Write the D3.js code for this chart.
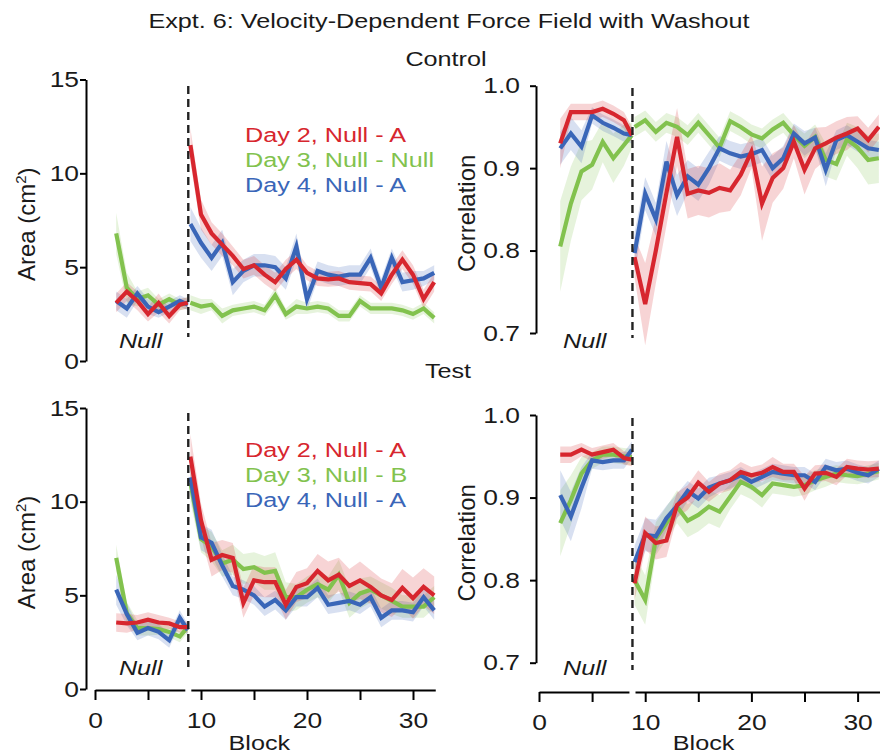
<!DOCTYPE html>
<html>
<head>
<meta charset="utf-8">
<script src="https://cdn.jsdelivr.net/npm/d3@7"></script>
<style>
  body { margin: 0; background: #fff; }
  text { font-family: "Liberation Sans", Arial, sans-serif; fill: #1a1a1a; }
</style>
</head>
<body>
<div id="chart"></div>
<script>
// block numbers (null phase squeezed up to the dashed line)
const nullBlocks = [2, 3, 4, 5, 6, 7, 8, 8.75];
const postBlocks = [9, 10, 11, 12, 13, 14, 15, 16, 17, 18, 19, 20, 21, 22, 23, 24, 25, 26, 27, 28, 29, 30, 31, 32];

const areaTicks = [0, 5, 10, 15];
const corrTicks = [0.7, 0.8, 0.9, 1.0];
const blockLabels = [0, 10, 20, 30];

const seriesNames = ["Day 2, Null - A", "Day 3, Null - Null", "Day 4, Null - A"];
const seriesNamesTest = ["Day 2, Null - A", "Day 3, Null - B", "Day 4, Null - A"];

// Control, area
const ctrlAreaRedNull = [3.1, 3.7, 3.2, 2.5, 3.1, 2.4, 3.0, 3.1];
const ctrlAreaRedNullSem = [0.5, 0.5, 0.5, 0.4, 0.5, 0.4, 0.3, 0.3];
const ctrlAreaRedPost = [11.5, 7.8, 6.8, 6.2, 5.6, 4.9, 5.1, 4.6, 4.2, 4.9, 5.4, 4.7, 4.4, 4.35, 4.4, 4.2, 4.15, 4.1, 3.6, 4.6, 5.4, 4.6, 3.3, 4.2];
const ctrlAreaRedPostSem = [0.9, 0.8, 0.6, 0.6, 0.5, 0.5, 0.5, 0.5, 0.5, 0.5, 0.5, 0.4, 0.4, 0.4, 0.4, 0.4, 0.4, 0.4, 0.4, 0.5, 0.5, 0.5, 0.5, 0.5];
const ctrlAreaGreenNull = [6.8, 3.9, 3.3, 3.5, 3.0, 3.3, 3.0, 3.1];
const ctrlAreaGreenNullSem = [1.1, 0.8, 0.4, 0.4, 0.3, 0.3, 0.3, 0.3];
const ctrlAreaGreenPost = [3.1, 2.9, 3.0, 2.4, 2.7, 2.8, 2.9, 2.7, 3.5, 2.5, 2.9, 2.8, 2.9, 2.8, 2.4, 2.4, 3.2, 2.8, 2.8, 2.8, 2.7, 2.5, 2.8, 2.3];
const ctrlAreaGreenPostSem = [0.4, 0.4, 0.3, 0.4, 0.3, 0.3, 0.3, 0.3, 0.4, 0.3, 0.4, 0.3, 0.3, 0.3, 0.3, 0.3, 0.3, 0.3, 0.3, 0.3, 0.3, 0.3, 0.3, 0.3];
const ctrlAreaBlueNull = [3.2, 2.8, 3.6, 2.9, 2.6, 2.9, 3.2, 3.0];
const ctrlAreaBlueNullSem = [0.5, 0.5, 0.4, 0.4, 0.3, 0.3, 0.3, 0.3];
const ctrlAreaBluePost = [7.3, 6.3, 5.5, 6.3, 4.2, 4.8, 5.1, 5.1, 5.0, 4.4, 6.1, 3.3, 4.8, 4.6, 4.5, 4.6, 4.6, 5.5, 3.9, 5.5, 4.2, 4.3, 4.4, 4.7];
const ctrlAreaBluePostSem = [0.9, 0.8, 0.7, 0.7, 0.7, 0.6, 0.6, 0.6, 0.6, 0.6, 0.7, 0.6, 0.5, 0.5, 0.5, 0.5, 0.5, 0.5, 0.5, 0.5, 0.5, 0.5, 0.4, 0.4];

// Control, correlation
const ctrlCorrRedNull = [0.930, 0.968, 0.968, 0.968, 0.972, 0.966, 0.958, 0.940];
const ctrlCorrRedNullSem = [0.03, 0.01, 0.01, 0.01, 0.01, 0.01, 0.01, 0.01];
const ctrlCorrRedPost = [0.792, 0.735, 0.800, 0.870, 0.938, 0.869, 0.873, 0.870, 0.876, 0.873, 0.892, 0.920, 0.857, 0.888, 0.900, 0.932, 0.898, 0.924, 0.930, 0.937, 0.942, 0.948, 0.934, 0.950];
const ctrlCorrRedPostSem = [0.025, 0.05, 0.04, 0.04, 0.035, 0.03, 0.03, 0.03, 0.03, 0.025, 0.025, 0.02, 0.045, 0.03, 0.025, 0.02, 0.03, 0.025, 0.02, 0.02, 0.02, 0.015, 0.015, 0.015];
const ctrlCorrGreenNull = [0.805, 0.857, 0.896, 0.904, 0.932, 0.912, 0.928, 0.940];
const ctrlCorrGreenNullSem = [0.055, 0.045, 0.035, 0.03, 0.025, 0.03, 0.025, 0.015];
const ctrlCorrGreenPost = [0.950, 0.958, 0.944, 0.955, 0.950, 0.940, 0.955, 0.940, 0.925, 0.957, 0.950, 0.941, 0.936, 0.947, 0.955, 0.940, 0.927, 0.938, 0.910, 0.905, 0.935, 0.925, 0.910, 0.912];
const ctrlCorrGreenPostSem = [0.012, 0.012, 0.012, 0.012, 0.012, 0.012, 0.012, 0.012, 0.012, 0.012, 0.012, 0.012, 0.012, 0.012, 0.012, 0.012, 0.015, 0.015, 0.02, 0.02, 0.02, 0.025, 0.03, 0.03];
const ctrlCorrBlueNull = [0.924, 0.942, 0.926, 0.964, 0.955, 0.949, 0.942, 0.940];
const ctrlCorrBlueNullSem = [0.02, 0.02, 0.02, 0.01, 0.01, 0.01, 0.01, 0.01];
const ctrlCorrBluePost = [0.797, 0.869, 0.838, 0.908, 0.867, 0.890, 0.880, 0.900, 0.924, 0.918, 0.914, 0.917, 0.922, 0.900, 0.912, 0.942, 0.930, 0.937, 0.898, 0.934, 0.940, 0.932, 0.924, 0.922];
const ctrlCorrBluePostSem = [0.025, 0.02, 0.02, 0.025, 0.025, 0.02, 0.02, 0.02, 0.015, 0.015, 0.015, 0.015, 0.015, 0.015, 0.015, 0.012, 0.015, 0.012, 0.02, 0.012, 0.012, 0.012, 0.01, 0.01];

// Test, area
const testAreaRedNull = [3.55, 3.5, 3.55, 3.7, 3.55, 3.5, 3.3, 3.3];
const testAreaRedNullSem = [0.5, 0.5, 0.4, 0.4, 0.4, 0.3, 0.3, 0.3];
const testAreaRedPost = [12.4, 9.0, 6.9, 7.15, 7.0, 4.6, 5.8, 5.7, 5.7, 4.5, 5.45, 5.65, 6.3, 5.8, 6.1, 5.5, 5.8, 5.45, 5.0, 4.75, 5.4, 4.85, 5.45, 5.0];
const testAreaRedPostSem = [1.2, 0.9, 0.9, 0.8, 0.8, 0.8, 0.8, 0.8, 0.8, 0.8, 0.8, 0.8, 0.9, 1.0, 0.9, 0.9, 1.0, 0.9, 0.9, 0.9, 1.0, 1.1, 1.0, 1.0];
const testAreaGreenNull = [7.0, 4.05, 3.25, 3.25, 3.2, 3.05, 2.8, 3.3];
const testAreaGreenNullSem = [0.7, 0.6, 0.4, 0.4, 0.3, 0.3, 0.3, 0.3];
const testAreaGreenPost = [11.0, 8.0, 7.6, 6.7, 6.9, 6.4, 6.5, 6.2, 6.3, 4.9, 4.9, 5.3, 5.6, 5.3, 6.1, 4.6, 5.1, 5.3, 5.0, 4.7, 4.4, 4.4, 4.4, 4.9];
const testAreaGreenPostSem = [1.0, 0.7, 0.8, 0.7, 0.8, 0.8, 0.8, 0.9, 1.0, 0.8, 0.7, 0.7, 0.7, 0.7, 0.8, 0.8, 0.8, 0.7, 0.7, 0.7, 0.6, 0.6, 0.6, 0.6];
const testAreaBlueNull = [5.3, 4.0, 3.0, 3.25, 3.05, 2.6, 3.8, 3.15];
const testAreaBlueNullSem = [0.8, 0.6, 0.4, 0.4, 0.4, 0.4, 0.4, 0.3];
const testAreaBluePost = [11.3, 8.1, 7.8, 6.6, 5.5, 5.3, 5.0, 4.4, 4.75, 4.2, 4.9, 4.9, 5.4, 4.5, 4.6, 4.7, 4.5, 4.9, 3.8, 4.2, 4.2, 4.1, 4.9, 4.2];
const testAreaBluePostSem = [1.0, 0.7, 0.7, 0.6, 0.5, 0.5, 0.5, 0.5, 0.5, 0.5, 0.5, 0.5, 0.5, 0.5, 0.5, 0.5, 0.5, 0.5, 0.5, 0.5, 0.5, 0.5, 0.5, 0.5];

// Test, correlation
const testCorrRedNull = [0.952, 0.952, 0.958, 0.952, 0.955, 0.958, 0.948, 0.946];
const testCorrRedNullSem = [0.01, 0.01, 0.008, 0.008, 0.008, 0.008, 0.008, 0.008];
const testCorrRedPost = [0.796, 0.857, 0.845, 0.848, 0.891, 0.900, 0.918, 0.907, 0.917, 0.921, 0.931, 0.927, 0.930, 0.937, 0.931, 0.931, 0.911, 0.929, 0.930, 0.925, 0.937, 0.935, 0.934, 0.935];
const testCorrRedPostSem = [0.02, 0.02, 0.02, 0.02, 0.015, 0.015, 0.015, 0.012, 0.012, 0.012, 0.012, 0.01, 0.01, 0.012, 0.01, 0.01, 0.015, 0.01, 0.01, 0.01, 0.01, 0.01, 0.01, 0.01];
const testCorrGreenNull = [0.869, 0.897, 0.929, 0.945, 0.952, 0.952, 0.950, 0.949];
const testCorrGreenNullSem = [0.04, 0.03, 0.02, 0.01, 0.01, 0.01, 0.01, 0.01];
const testCorrGreenPost = [0.800, 0.776, 0.850, 0.869, 0.889, 0.872, 0.879, 0.889, 0.883, 0.901, 0.919, 0.913, 0.903, 0.917, 0.915, 0.913, 0.915, 0.921, 0.925, 0.929, 0.927, 0.926, 0.929, 0.932];
const testCorrGreenPostSem = [0.03, 0.03, 0.02, 0.02, 0.02, 0.02, 0.02, 0.02, 0.02, 0.015, 0.015, 0.015, 0.015, 0.012, 0.012, 0.012, 0.012, 0.012, 0.012, 0.01, 0.01, 0.01, 0.01, 0.01];
const testCorrBlueNull = [0.903, 0.877, 0.912, 0.945, 0.943, 0.945, 0.945, 0.958];
const testCorrBlueNullSem = [0.03, 0.03, 0.025, 0.01, 0.01, 0.01, 0.01, 0.01];
const testCorrBluePost = [0.822, 0.855, 0.853, 0.875, 0.890, 0.908, 0.899, 0.912, 0.917, 0.921, 0.927, 0.919, 0.925, 0.931, 0.929, 0.927, 0.927, 0.919, 0.937, 0.933, 0.935, 0.930, 0.927, 0.935];
const testCorrBluePostSem = [0.02, 0.02, 0.02, 0.015, 0.015, 0.012, 0.012, 0.012, 0.01, 0.01, 0.01, 0.01, 0.01, 0.01, 0.01, 0.01, 0.01, 0.01, 0.01, 0.01, 0.01, 0.01, 0.01, 0.01];

const red = "#d7262e", green = "#82c24e", blue = "#3a66b8";

let width = 880, height = 756;
let wide = 1.2; // the original lettering is wider than Arial

let svg = d3.select("#chart").append("svg")
  .attr("width", width)
  .attr("height", height)
  .style("background-color", "#FFFFFF");

// horizontal text, stretched sideways a bit
function wideText(parent, x, y, str, size, anchor) {
  return parent.append("text")
    .attr("transform", "translate(" + x + "," + y + ") scale(" + wide + ",1)")
    .attr("text-anchor", anchor || "middle")
    .style("font-size", size + "px")
    .text(str);
}

function series(color, nullM, nullS, postM, postS) {
  return {
    color: color,
    parts: [
      nullBlocks.map(function(b, i) { return {b: b, m: nullM[i], s: nullS[i]}; }),
      postBlocks.map(function(b, i) { return {b: b, m: postM[i], s: postS[i]}; })
    ]
  };
}

let panels = [
  { xr: [95, 413], yd: [0, 15], yr: [361, 79.5], axisX: 86, ticks: areaTicks, fmt: d3.format("d"), tickOff: 7,
    label: "Area (cm", sup: true, labelX: 35, dash: [86, 337], nullY: 348, xAxis: false,
    legend: seriesNames, legendX: 245, legendY: 142,
    series: [
      series(green, ctrlAreaGreenNull, ctrlAreaGreenNullSem, ctrlAreaGreenPost, ctrlAreaGreenPostSem),
      series(blue, ctrlAreaBlueNull, ctrlAreaBlueNullSem, ctrlAreaBluePost, ctrlAreaBluePostSem),
      series(red, ctrlAreaRedNull, ctrlAreaRedNullSem, ctrlAreaRedPost, ctrlAreaRedPostSem)
    ] },
  { xr: [539, 857.6], yd: [0.7, 1.0], yr: [333, 85.7], axisX: 536, ticks: corrTicks, fmt: d3.format(".1f"), tickOff: 16,
    label: "Correlation", sup: false, labelX: 475, dash: [88, 338], nullY: 348, xAxis: false,
    series: [
      series(green, ctrlCorrGreenNull, ctrlCorrGreenNullSem, ctrlCorrGreenPost, ctrlCorrGreenPostSem),
      series(blue, ctrlCorrBlueNull, ctrlCorrBlueNullSem, ctrlCorrBluePost, ctrlCorrBluePostSem),
      series(red, ctrlCorrRedNull, ctrlCorrRedNullSem, ctrlCorrRedPost, ctrlCorrRedPostSem)
    ] },
  { xr: [95, 413], yd: [0, 15], yr: [689, 408], axisX: 86, ticks: areaTicks, fmt: d3.format("d"), tickOff: 7,
    label: "Area (cm", sup: true, labelX: 35, dash: [413, 667], nullY: 675, xAxis: true, xAxisY: 690,
    legend: seriesNamesTest, legendX: 245, legendY: 457,
    series: [
      series(green, testAreaGreenNull, testAreaGreenNullSem, testAreaGreenPost, testAreaGreenPostSem),
      series(blue, testAreaBlueNull, testAreaBlueNullSem, testAreaBluePost, testAreaBluePostSem),
      series(red, testAreaRedNull, testAreaRedNullSem, testAreaRedPost, testAreaRedPostSem)
    ] },
  { xr: [539, 857.6], yd: [0.7, 1.0], yr: [662.7, 415], axisX: 536, ticks: corrTicks, fmt: d3.format(".1f"), tickOff: 16,
    label: "Correlation", sup: false, labelX: 475, dash: [418, 670], nullY: 675, xAxis: true, xAxisY: 692,
    series: [
      series(green, testCorrGreenNull, testCorrGreenNullSem, testCorrGreenPost, testCorrGreenPostSem),
      series(blue, testCorrBlueNull, testCorrBlueNullSem, testCorrBluePost, testCorrBluePostSem),
      series(red, testCorrRedNull, testCorrRedNullSem, testCorrRedPost, testCorrRedPostSem)
    ] }
];

panels.forEach(function(p) {
  let x = d3.scaleLinear().domain([0, 30]).range(p.xr);
  let y = d3.scaleLinear().domain(p.yd).range(p.yr);
  let g = svg.append("g");

  let band = d3.area()
    .x(function(d) { return x(d.b); })
    .y0(function(d) { return y(d.m - d.s); })
    .y1(function(d) { return y(d.m + d.s); });
  let line = d3.line()
    .x(function(d) { return x(d.b); })
    .y(function(d) { return y(d.m); });

  p.series.forEach(function(s) {
    s.parts.forEach(function(part) {
      g.append("path")
        .attr("d", band(part))
        .style("fill", s.color)
        .style("fill-opacity", 0.2)
        .style("stroke", "none");
    });
  });
  p.series.forEach(function(s) {
    s.parts.forEach(function(part) {
      g.append("path")
        .attr("d", line(part))
        .style("fill", "none")
        .style("stroke", s.color)
        .style("stroke-width", 4.2);
    });
  });

  // dashed divider between null and force field
  g.append("line")
    .attr("x1", x(8.8)).attr("x2", x(8.8))
    .attr("y1", p.dash[0]).attr("y2", p.dash[1])
    .style("stroke", "#222")
    .style("stroke-width", 2.4)
    .style("stroke-dasharray", "8,5");

  wideText(g, x(4.3), p.nullY, "Null", 21).style("font-style", "italic");

  // y axis
  let yAxis = g.append("g")
    .attr("transform", "translate(" + p.axisX + ",0)")
    .call(d3.axisLeft(y).tickValues(p.ticks).tickFormat(p.fmt).tickSize(6).tickSizeOuter(0));
  yAxis.select(".domain").style("stroke-width", 2);
  yAxis.selectAll(".tick line").style("stroke-width", 2);
  yAxis.selectAll(".tick text")
    .attr("x", 0)
    .attr("transform", "translate(" + (-p.tickOff) + ",0) scale(" + wide + ",1)")
    .style("font-size", "22px")
    .style("font-family", "Liberation Sans, Arial, sans-serif")
    .attr("fill", "#1a1a1a");

  let lbl = g.append("text")
    .attr("transform", "translate(" + p.labelX + "," + ((p.yr[0] + p.yr[1]) / 2 + 4) + ") rotate(-90)")
    .attr("text-anchor", "middle")
    .style("font-size", "24px")
    .text(p.label);
  if (p.sup) {
    lbl.append("tspan").attr("dy", -9).style("font-size", "15px").text("2");
    lbl.append("tspan").attr("dy", 9).text(")");
  }

  if (p.legend) {
    p.legend.forEach(function(name, i) {
      wideText(g, p.legendX, p.legendY + i * 25, name, 21, "start")
        .style("fill", [red, green, blue][i]);
    });
  }

  if (p.xAxis) {
    let segs = [[0, 8.47, [0, 5]], [9.04, 32.1, [10, 15, 20, 25, 30]]];
    segs.forEach(function(sg) {
      let xs = d3.scaleLinear().domain([sg[0], sg[1]]).range([x(sg[0]), x(sg[1])]);
      let ax = g.append("g")
        .attr("transform", "translate(0," + p.xAxisY + ")")
        .call(d3.axisBottom(xs).tickValues(sg[2]).tickSize(10).tickSizeOuter(0).tickPadding(12)
          .tickFormat(function(d) { return blockLabels.indexOf(d) >= 0 ? d : ""; }));
      ax.select(".domain").style("stroke-width", 2);
      ax.selectAll(".tick line").style("stroke-width", 2);
      ax.selectAll(".tick text")
        .attr("transform", "scale(" + wide + ",1)")
        .style("font-size", "22px")
        .style("font-family", "Liberation Sans, Arial, sans-serif")
        .attr("fill", "#1a1a1a");
    });
    wideText(g, x(15.5), 750, "Block", 21);
  }
});

wideText(svg, 449, 28, "Expt. 6: Velocity-Dependent Force Field with Washout", 21);
wideText(svg, 446, 66, "Control", 21);
wideText(svg, 448, 378, "Test", 21);
</script>
</body>
</html>
